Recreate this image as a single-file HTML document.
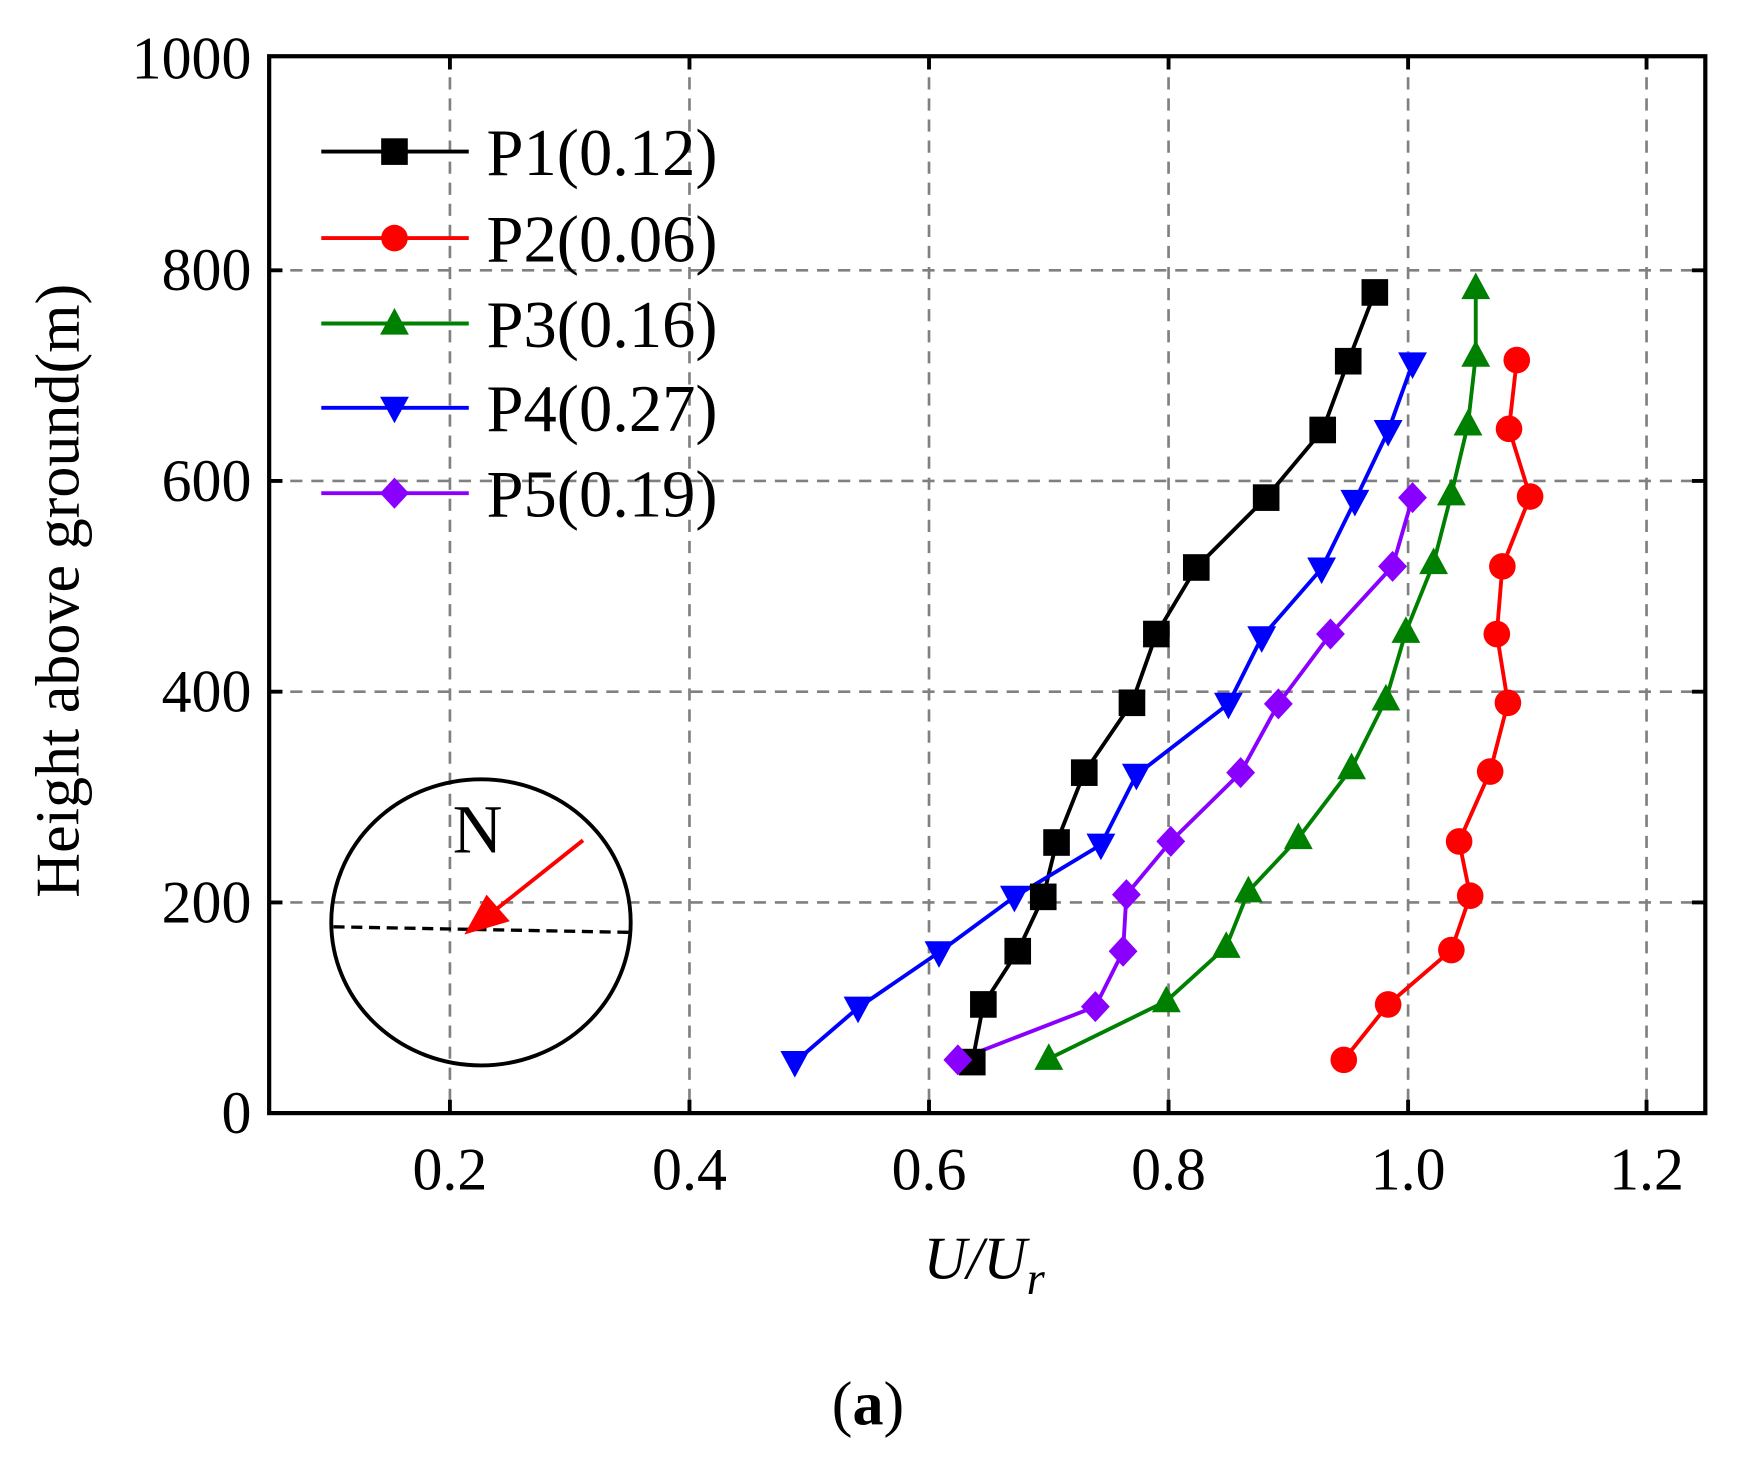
<!DOCTYPE html>
<html><head><meta charset="utf-8"><style>html,body{margin:0;padding:0;background:#fff}svg{display:block}</style></head>
<body>
<svg width="1742" height="1458" viewBox="0 0 1742 1458" xmlns="http://www.w3.org/2000/svg" font-family="'Liberation Serif', serif">
<defs>
<rect id="sq" x="-12" y="-12" width="24" height="24" fill="#000"/>
<circle id="ci" r="12" fill="#f00"/>
<polygon id="tu" points="0,-14 13,10 -13,10" fill="#008000"/>
<polygon id="td" points="0,14 13,-10 -13,-10" fill="#0000ff"/>
<polygon id="dm" points="0,-14 13,0 0,14 -13,0" fill="#8a00ff"/>
</defs>
<g transform="translate(3,3) scale(1.109)">
<g stroke="#808080" stroke-width="2.4" stroke-dasharray="11,8" fill="none">
<line x1="403" y1="48" x2="403" y2="1001"/><line x1="619" y1="48" x2="619" y2="1001"/>
<line x1="835" y1="48" x2="835" y2="1001"/><line x1="1051" y1="48" x2="1051" y2="1001"/>
<line x1="1267" y1="48" x2="1267" y2="1001"/><line x1="1482" y1="48" x2="1482" y2="1001"/>
<line x1="240" y1="241" x2="1535" y2="241"/><line x1="240" y1="431" x2="1535" y2="431"/>
<line x1="240" y1="621" x2="1535" y2="621"/><line x1="240" y1="811" x2="1535" y2="811"/>
</g>
<g stroke="#000" stroke-width="3.5">
<path d="M403,48v12M619,48v12M835,48v12M1051,48v12M1267,48v12M1482,48v12M403,1001v-12M619,1001v-12M835,1001v-12M1051,1001v-12M1267,1001v-12M1482,1001v-12"/>
<path d="M240,241h12M240,431h12M240,621h12M240,811h12M1535,241h-12M1535,431h-12M1535,621h-12M1535,811h-12"/>
</g>
<rect x="240" y="48" width="1295" height="953" fill="none" stroke="#000" stroke-width="3.8"/>
<g font-size="54" text-anchor="end">
<text x="224" y="68">1000</text><text x="224" y="259">800</text><text x="224" y="449">600</text>
<text x="224" y="639">400</text><text x="224" y="829">200</text><text x="224" y="1019">0</text>
</g>
<g font-size="54" text-anchor="middle">
<text x="403" y="1070">0.2</text><text x="619" y="1070">0.4</text><text x="835" y="1070">0.6</text>
<text x="1051" y="1070">0.8</text><text x="1267" y="1070">1.0</text><text x="1482" y="1070">1.2</text>
</g>
<text transform="translate(68,530) rotate(-90)" font-size="56" text-anchor="middle">Height above ground(m)</text>
<text x="830" y="1150" font-size="54" font-style="italic">U/U<tspan font-size="42" dy="14">r</tspan></text>
<text x="780" y="1282" font-size="56" text-anchor="middle">(<tspan font-weight="bold">a</tspan>)</text>
<!-- compass -->
<ellipse cx="431" cy="829" rx="135" ry="129" fill="none" stroke="#000" stroke-width="3.5"/>
<line x1="298" y1="833" x2="565" y2="838" stroke="#000" stroke-width="3" stroke-dasharray="10,6"/>
<text x="428" y="766" font-size="62" text-anchor="middle">N</text>
<line x1="523" y1="755" x2="440" y2="821" stroke="#f00" stroke-width="3.5"/>
<polygon points="416,840 436,804 457,828" fill="#f00"/>
<!-- series -->
<g fill="none" stroke-width="3.5">
<polyline stroke="#000" points="874,955 884,903 915,855 938,806 950,757 975,694 1018,631 1040,569 1076,509 1139,446 1190,385 1213,323 1237,261"/>
<polyline stroke="#f00" points="1209,953 1249,903 1306,854 1323,805 1313,756 1341,693 1357,631 1347,569 1352,508 1377,445 1358,384 1365,322"/>
<polyline stroke="#008000" points="943,952 1049,900 1103,851 1123,801 1168,753 1216,690 1247,628 1265,567 1290,505 1306,443 1321,380 1328,318 1328,257"/>
<polyline stroke="#0000ff" points="714,955 771,906 844,856 912,806 990,759 1022,696 1105,632 1135,572 1189,510 1219,449 1249,386 1271,325"/>
<polyline stroke="#8a00ff" points="861,953 985,905 1010,855 1013,804 1053,756 1116,694 1150,632 1197,569 1253,508 1271,446"/>
</g>
<g>
<use href="#sq" x="874" y="955"/><use href="#sq" x="884" y="903"/><use href="#sq" x="915" y="855"/><use href="#sq" x="938" y="806"/><use href="#sq" x="950" y="757"/><use href="#sq" x="975" y="694"/><use href="#sq" x="1018" y="631"/><use href="#sq" x="1040" y="569"/><use href="#sq" x="1076" y="509"/><use href="#sq" x="1139" y="446"/><use href="#sq" x="1190" y="385"/><use href="#sq" x="1213" y="323"/><use href="#sq" x="1237" y="261"/>
<use href="#ci" x="1209" y="953"/><use href="#ci" x="1249" y="903"/><use href="#ci" x="1306" y="854"/><use href="#ci" x="1323" y="805"/><use href="#ci" x="1313" y="756"/><use href="#ci" x="1341" y="693"/><use href="#ci" x="1357" y="631"/><use href="#ci" x="1347" y="569"/><use href="#ci" x="1352" y="508"/><use href="#ci" x="1377" y="445"/><use href="#ci" x="1358" y="384"/><use href="#ci" x="1365" y="322"/>
<use href="#tu" x="943" y="952"/><use href="#tu" x="1049" y="900"/><use href="#tu" x="1103" y="851"/><use href="#tu" x="1123" y="801"/><use href="#tu" x="1168" y="753"/><use href="#tu" x="1216" y="690"/><use href="#tu" x="1247" y="628"/><use href="#tu" x="1265" y="567"/><use href="#tu" x="1290" y="505"/><use href="#tu" x="1306" y="443"/><use href="#tu" x="1321" y="380"/><use href="#tu" x="1328" y="318"/><use href="#tu" x="1328" y="257"/>
<use href="#td" x="714" y="955"/><use href="#td" x="771" y="906"/><use href="#td" x="844" y="856"/><use href="#td" x="912" y="806"/><use href="#td" x="990" y="759"/><use href="#td" x="1022" y="696"/><use href="#td" x="1105" y="632"/><use href="#td" x="1135" y="572"/><use href="#td" x="1189" y="510"/><use href="#td" x="1219" y="449"/><use href="#td" x="1249" y="386"/><use href="#td" x="1271" y="325"/>
<use href="#dm" x="861" y="953"/><use href="#dm" x="985" y="905"/><use href="#dm" x="1010" y="855"/><use href="#dm" x="1013" y="804"/><use href="#dm" x="1053" y="756"/><use href="#dm" x="1116" y="694"/><use href="#dm" x="1150" y="632"/><use href="#dm" x="1197" y="569"/><use href="#dm" x="1253" y="508"/><use href="#dm" x="1271" y="446"/>
</g>
<!-- legend -->
<g stroke-width="3.5">
<line x1="287" y1="134" x2="420" y2="134" stroke="#000"/><use href="#sq" x="353" y="134"/>
<line x1="287" y1="212" x2="420" y2="212" stroke="#f00"/><use href="#ci" x="353" y="212"/>
<line x1="287" y1="289" x2="420" y2="289" stroke="#008000"/><use href="#tu" x="353" y="289"/>
<line x1="287" y1="365" x2="420" y2="365" stroke="#0000ff"/><use href="#td" x="353" y="365"/>
<line x1="287" y1="442" x2="420" y2="442" stroke="#8a00ff"/><use href="#dm" x="353" y="442"/>
</g>
<g font-size="60">
<text x="436" y="155">P1(0.12)</text><text x="436" y="233">P2(0.06)</text><text x="436" y="310">P3(0.16)</text>
<text x="436" y="386">P4(0.27)</text><text x="436" y="463">P5(0.19)</text>
</g>
</g>
</svg>
</body></html>
